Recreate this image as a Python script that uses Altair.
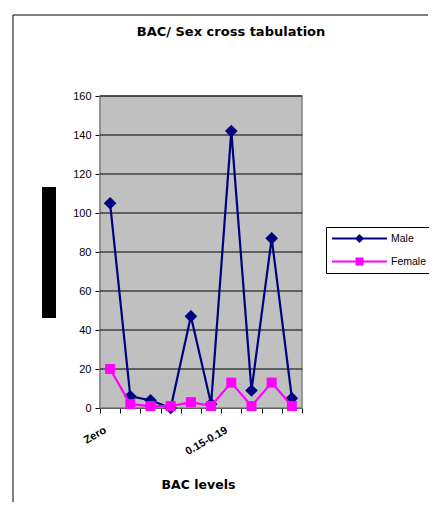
import altair as alt
import pandas as pd

categories = ["Zero", "0.01-0.04", "0.05-0.07", "0.08-0.09", "0.10-0.11",
              "0.12-0.14", "0.15-0.19", "0.20-0.24", "0.25-0.29", "0.30+"]
male = [105, 6, 4, 0, 47, 2, 142, 9, 87, 5]
female = [20, 2, 1, 1, 3, 1, 13, 1, 13, 1]
series_names = ["Male", "Female"]
series_colors = ["#000080", "#FF00FF"]
y_ticks = [0, 20, 40, 60, 80, 100, 120, 140, 160]
shown_labels = ["Zero", "0.15-0.19"]

rows = []
for c, m, f in zip(categories, male, female):
    rows.append({"bac": c, "series": "Male", "count": m})
    rows.append({"bac": c, "series": "Female", "count": f})
df = pd.DataFrame(rows)

FONT = "Liberation Sans"
TFONT = "DejaVu Sans"
W, H = 202, 312

label_expr = "indexof(" + str(shown_labels) + ", datum.value) >= 0 ? datum.label : ''"

x_enc = alt.X(
    "bac:N", sort=categories, bandPosition=0.5,
    scale=alt.Scale(type="band", paddingInner=0, paddingOuter=0),
    axis=alt.Axis(title="BAC levels", tickBand="extent", labelAngle=-30,
                  labelAlign="right", labelBaseline="middle", labelPadding=16,
                  labelOffset=-5,
                  labelExpr=label_expr, labelFont=FONT, labelFontSize=11,
                  labelFontWeight="bold", labelColor="black",
                  tickColor="black", tickSize=5, domainColor="black",
                  titleFont=TFONT, titleFontSize=12.5, titleFontWeight="bold",
                  titleColor="black", titleX=98, titleY=80,
                  titleBaseline="alphabetic", titleAlign="center", grid=False),
)
y_scale = alt.Scale(domain=[0, 160], nice=False)
y_axis = alt.Axis(title=None, values=y_ticks, grid=False, tickColor="black",
                  tickSize=5, domainColor="#404040", domainWidth=1.5,
                  labelFont=FONT, labelFontSize=11, labelColor="black",
                  labelPadding=4)
y_enc = alt.Y("count:Q", scale=y_scale, axis=y_axis)

base = alt.Chart(df)

def series_layers(name, color, shape, size):
    sub = base.transform_filter(alt.datum.series == name)
    line = sub.mark_line(strokeWidth=2.2, color=color).encode(x=x_enc, y=y_enc)
    pts = sub.mark_point(shape=shape, size=size, filled=True, opacity=1,
                         color=color).encode(x=x_enc, y=y_enc)
    return [line, pts]

# legend symbols: line with marker, in units of sqrt(size)/2 px
male_path = "M-1,-0.18H9V0.18H-1Z M4,-0.82L4.82,0L4,0.82L3.18,0Z"
female_path = "M-1,-0.18H9V0.18H-1Z M3.27,-0.73H4.73V0.73H3.27Z"

leg = alt.Legend(title=None, orient="none", legendX=226, legendY=131,
                 strokeColor="black", fillColor="white", padding=6,
                 symbolSize=121, symbolStrokeWidth=0,
                 labelFont=FONT, labelFontSize=10.5,
                 labelColor="black", labelOffset=48, rowPadding=12)

legend_layer = base.transform_filter(alt.datum.count < -1000).mark_point(
    filled=True, opacity=1, size=121).encode(
    color=alt.Color("series:N", scale=alt.Scale(domain=series_names,
                                                 range=series_colors), legend=leg),
    shape=alt.Shape("series:N", scale=alt.Scale(domain=series_names,
                                                 range=[male_path, female_path]),
                    legend=leg),
)

one = alt.Data(values=[{"k": 1}])
frame_v = alt.Chart(one).mark_rule(color="black", strokeWidth=1).encode(
    x=alt.value(-87), y=alt.value(-81), y2=alt.value(406))
frame_h = alt.Chart(one).mark_rule(color="black", strokeWidth=1).encode(
    x=alt.value(-87), x2=alt.value(328), y=alt.value(-81))
black_box = alt.Chart(one).mark_rect(color="black").encode(
    x=alt.value(-58), x2=alt.value(-44), y=alt.value(91), y2=alt.value(222))
plot_bg = alt.Chart(one).mark_rect(fill="#C0C0C0", stroke="#808080",
                                   strokeWidth=1.5).encode(
    x=alt.value(0), x2=alt.value(W), y=alt.value(0), y2=alt.value(H))

grid = alt.Chart(alt.Data(values=[{"tick": t} for t in y_ticks[1:]])).mark_rule(
    color="black", strokeWidth=1).encode(
    y=alt.Y("tick:Q", scale=y_scale, axis=y_axis),
    x=alt.value(0), x2=alt.value(W))

layers = [frame_v, frame_h, black_box, plot_bg, grid] \
    + series_layers("Male", series_colors[0], "diamond", 160) \
    + series_layers("Female", series_colors[1], "square", 100) + [legend_layer]

chart = alt.layer(*layers).properties(
    width=W, height=H,
    background="white",
    title=alt.TitleParams("BAC/ Sex cross tabulation", font=TFONT, fontSize=13,
                          fontWeight="bold", color="black", anchor="middle",
                          frame="group", dx=30, dy=34, offset=0,
                          baseline="alphabetic"),
    autosize=alt.AutoSizeParams(type="none"),
    padding={"left": 92, "top": 88, "right": 127, "bottom": 95},
).configure_view(strokeWidth=0)

chart.save("out.html", embed_options={"renderer": "svg", "actions": False})
